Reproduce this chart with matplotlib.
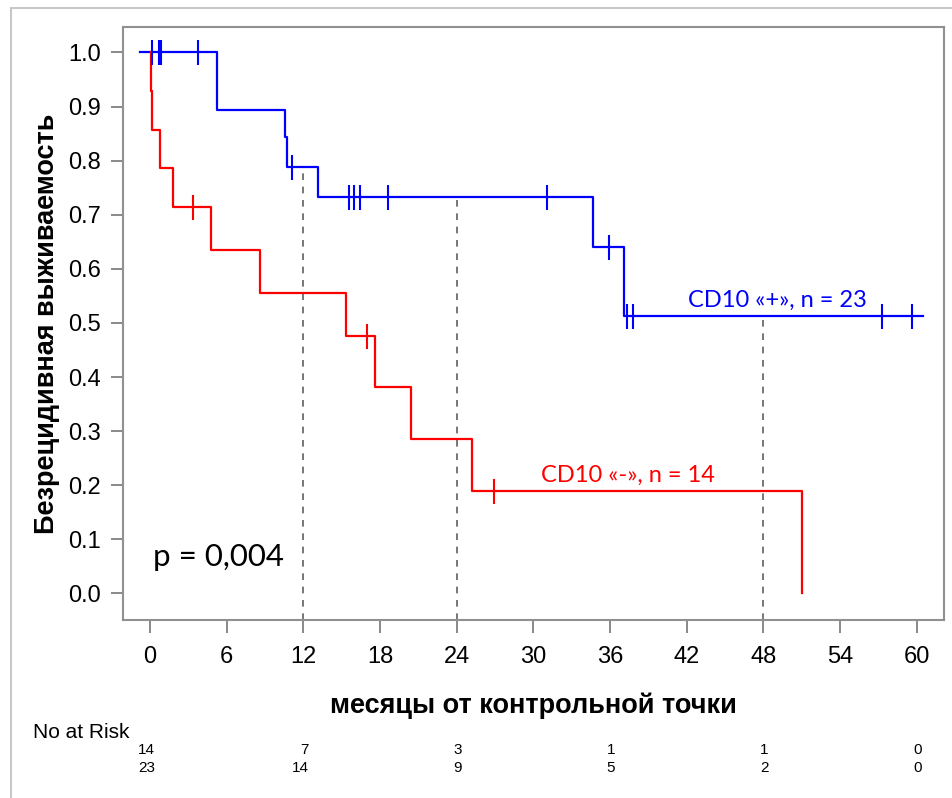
import numpy as np
import matplotlib
matplotlib.use('Agg')
import matplotlib.pyplot as plt
import matplotlib.transforms as mtransforms
from matplotlib.lines import Line2D

# --- data ---
blue_t = [-0.8, 5.24, 10.6, 10.7, 13.15, 34.7, 37.1, 60.5]
blue_s = [1.0, 0.894, 0.844, 0.788, 0.732, 0.640, 0.513, 0.513]
blue_cens_t = [0.13, 0.73, 0.86, 3.73, 11.1, 15.55, 16.0, 16.4, 18.6, 31.1,
               35.9, 37.3, 37.8, 57.3, 59.6]

red_t = [0.05, 0.1, 0.15, 0.78, 1.78, 4.75, 8.6, 15.3, 17.6, 20.4, 25.2, 51.0]
red_s = [1.0, 0.929, 0.857, 0.786, 0.714, 0.635, 0.555, 0.476, 0.381, 0.286, 0.190, 0.0]
red_cens_t = [3.36, 16.96, 26.9]

risk_times = [0, 12, 24, 36, 48, 60]
risk_red = [14, 7, 3, 1, 1, 0]
risk_blue = [23, 14, 9, 5, 2, 0]

ref_times = [12, 24, 48]

xticks = np.arange(0, 61, 6)
yticks = np.arange(0, 1.01, 0.1)


def surv_at(t, times, surv):
    i = np.searchsorted(times, t, side='right') - 1
    return surv[max(i, 0)]


fig = plt.figure(figsize=(9.53, 7.98), dpi=100)
ax = fig.add_axes([0.1291, 0.2231, 0.8615, 0.7431])

ax.set_xlim(-2.11, 62.13)
ax.set_ylim(-0.049, 1.047)

# reference dashed lines
for t in ref_times:
    ax.vlines(t, -0.049, surv_at(t, blue_t, blue_s), colors='#606060',
              linestyles=(0, (4, 4)), lw=1.2, zorder=1)

ax.step(blue_t, blue_s, where='post', color='#0000ff', lw=1.6, zorder=3)
ax.step(red_t, red_s, where='post', color='#ff0000', lw=1.6, zorder=3)

bc = [surv_at(t, blue_t, blue_s) for t in blue_cens_t]
rc = [surv_at(t, red_t, red_s) for t in red_cens_t]
ax.plot(blue_cens_t, bc, ls='none', marker='|', ms=18, mew=1.5, color='#0000ff', zorder=4)
ax.plot(red_cens_t, rc, ls='none', marker='|', ms=18, mew=1.5, color='#ff0000', zorder=4)

ax.text(42.1, 0.523, 'CD10 «+», n = 23', color='#0000ff', fontsize=17,
        family='Lato', va='bottom', ha='left')
ax.text(30.6, 0.198, 'CD10 «-», n = 14', color='#ff0000', fontsize=17,
        family='Lato', va='bottom', ha='left')
ax.text(0.2, 0.05, 'p = 0,004', color='black', fontsize=22.5, family='Lato',
        va='baseline', ha='left')

ax.set_xticks(xticks)
ax.set_xticklabels([str(v) for v in xticks], fontsize=17, family='Liberation Sans')
ax.set_yticks(yticks)
ax.set_yticklabels(['%.1f' % v for v in yticks], fontsize=17, family='Liberation Sans')
ax.tick_params(axis='both', colors='#808080', length=9, width=1.3, labelcolor='black')
ax.tick_params(axis='x', pad=10)
ax.tick_params(axis='y', pad=7)
for s in ax.spines.values():
    s.set_color('#909090')
    s.set_linewidth(1.5)

ax.set_ylabel('Безрецидивная выживаемость', fontsize=19.5, fontweight='bold',
              family='Liberation Sans', labelpad=6)
fig.text(533 / 953, 1 - 706 / 798, 'месяцы от контрольной точки', fontsize=19.5,
         fontweight='bold', family='Liberation Sans', ha='center', va='center')

# number at risk table
fig.text(33 / 953, 1 - 733 / 798, 'No at Risk', fontsize=15,
         family='Liberation Sans', ha='left', va='center')
trans = mtransforms.blended_transform_factory(ax.transData, fig.transFigure)
for t, r, b in zip(risk_times, risk_red, risk_blue):
    fig.text(t + 0.4, 1 - 750 / 798, str(r), transform=trans, fontsize=11,
             family='Liberation Sans', ha='right', va='center')
    fig.text(t + 0.4, 1 - 768 / 798, str(b), transform=trans, fontsize=11,
             family='Liberation Sans', ha='right', va='center')

# outer frame (left and top edges visible)
fig.add_artist(Line2D([11 / 953, 11 / 953], [0, 1 - 8 / 798], transform=fig.transFigure,
                      color='#c8c8c8', lw=1.5))
fig.add_artist(Line2D([11 / 953, 1], [1 - 8 / 798, 1 - 8 / 798], transform=fig.transFigure,
                      color='#c8c8c8', lw=1.5))

fig.savefig('out.png', dpi=100)
